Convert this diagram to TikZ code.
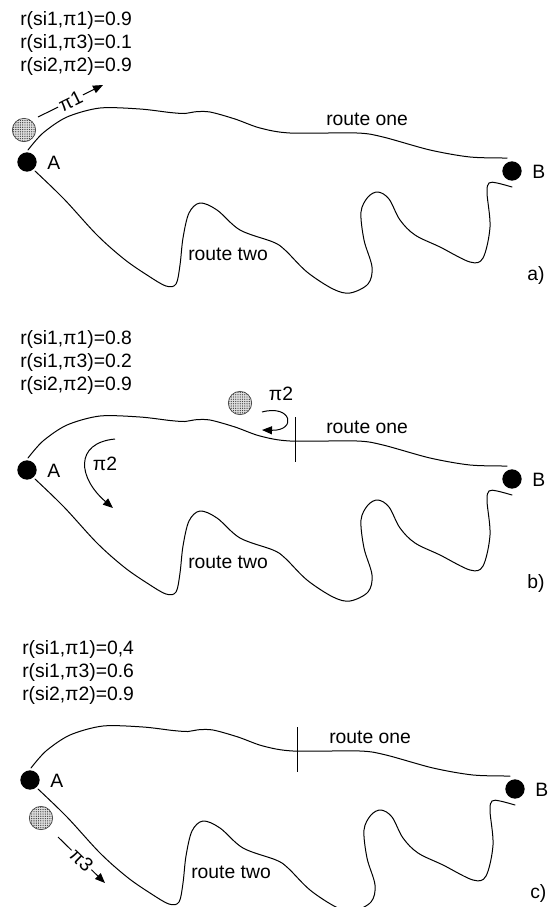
\documentclass[tikz,border=0pt]{standalone}
\usepackage{fontspec}
\setmainfont{Liberation Sans}
\usetikzlibrary{arrows.meta,patterns.meta}
\tikzset{
  route/.style={line width=0.75pt, line join=round, line cap=round},
  dotnode/.style={circle, fill=black, inner sep=0pt, minimum size=14.5pt},
  agent/.style={circle, draw=gray!50!black, line width=0.5pt, fill=gray!25,
    postaction={pattern={Dots[distance=1.7pt,radius=0.5pt]}, pattern color=gray!50!black},
    inner sep=0pt, minimum size=17.5pt},
  lbl/.style={font=\fontsize{14.5}{17}\selectfont, inner sep=0pt},
  arr/.style={line width=0.75pt, -{Triangle[length=7.5pt,width=6pt]}},
  tickmark/.style={line width=0.75pt},
  arrlbl/.style={lbl, fill=white, inner sep=1.2pt, sloped}
}
\begin{document}
\begin{tikzpicture}[x=0.75pt,y=-0.75pt]
\useasboundingbox (0,0) rectangle (553,907);

% common parts of the three panels
\foreach \dx/\dy/\p in {0/0/a, 0/308/b, 3/618/c}{
\begin{scope}[shift={(\dx,\dy)}]
  \node[dotnode] (A\p) at (27,162) {};
  \node[dotnode] (B\p) at (512,171) {};
  \node[lbl, anchor=base west] (Al\p) at (47,169) {A};
  \node[lbl, anchor=base west] (Bl\p) at (532,178) {B};
  \node[lbl, anchor=base west] (r1\p) at (326,125) {route one};
  \node[lbl, anchor=base west] (r2\p) at (188,260) {route two};
  \node[lbl, anchor=base west] (pl\p) at (527,280) {\p)};
  \draw[route] plot[smooth, tension=0.5] coordinates {(28,150) (43,133) (67,117) (100,108) (140,109) (170,112.5) (185,113.5) (195,111.8) (210,112) (235,119) (260,128) (290,133) (357,133) (383,137) (430,150) (470,157) (507,158)};
  \draw[route] plot[smooth, tension=0.55] coordinates {(35,171) (64,199) (97,235) (124,259) (147,275) (166,286) (176,284) (180,265) (183,238) (189,213) (200,203) (217,210) (240,230) (273,242) (285,250) (307,272) (333,289) (350,293) (368,284) (372,267) (364,240) (361,212) (368,197) (378,192) (389,199) (400,220) (415,235) (440,247) (470,262) (483,258) (490,227) (487,193) (489,183) (497,183) (512,187)};
\end{scope}
}

% panel a
\node[lbl, anchor=base west] (ta1) at (20,25) {r(si1,π1)=0.9};
\node[lbl, anchor=base west] (ta2) at (20,48) {r(si1,π3)=0.1};
\node[lbl, anchor=base west] (ta3) at (20,71) {r(si2,π2)=0.9};
\node[agent] (ga) at (24,130) {};
\coordinate (p1s) at (38,117);
\coordinate (p1e) at (103,85);
\draw[arr] (p1s) -- node[arrlbl] (pi1) {π1} (p1e);

% panel b
\begin{scope}[shift={(0,308)}]
  \node[lbl, anchor=base west] (tb1) at (20,36) {r(si1,π1)=0.8};
  \node[lbl, anchor=base west] (tb2) at (20,59) {r(si1,π3)=0.2};
  \node[lbl, anchor=base west] (tb3) at (20,82) {r(si2,π2)=0.9};
  \node[agent] (gb) at (240,95) {};
  \node[lbl, anchor=base] (pi2a) at (281,92) {π2};
  \coordinate (c1s) at (262,104);
  \coordinate (c1e) at (262,122);
  \draw[arr] (c1s) .. controls (292,96) and (297,123) .. (c1e);
  \coordinate (tbt) at (295,109);
  \coordinate (tbb) at (295,154);
  \draw[tickmark] (tbt) -- (tbb);
  \node[lbl, anchor=base] (pi2b) at (105,162) {π2};
  \coordinate (c2s) at (115,131);
  \coordinate (c2e) at (113,200);
  \draw[arr] (c2s) .. controls (74,135) and (78,170) .. (c2e);
\end{scope}

% panel c
\begin{scope}[shift={(3,618)}]
  \node[lbl, anchor=base west] (tc1) at (19,36) {r(si1,π1)=0,4};
  \node[lbl, anchor=base west] (tc2) at (19,59) {r(si1,π3)=0.6};
  \node[lbl, anchor=base west] (tc3) at (19,82) {r(si2,π2)=0.9};
  \node[agent] (gc) at (38,200) {};
  \coordinate (p3s) at (55,219);
  \coordinate (p3e) at (102,265);
  \draw[arr] (p3s) -- node[arrlbl] (pi3) {π3} (p3e);
  \coordinate (tct) at (294,109);
  \coordinate (tcb) at (294,154);
  \draw[tickmark] (tct) -- (tcb);
\end{scope}
\end{tikzpicture}
\end{document}
